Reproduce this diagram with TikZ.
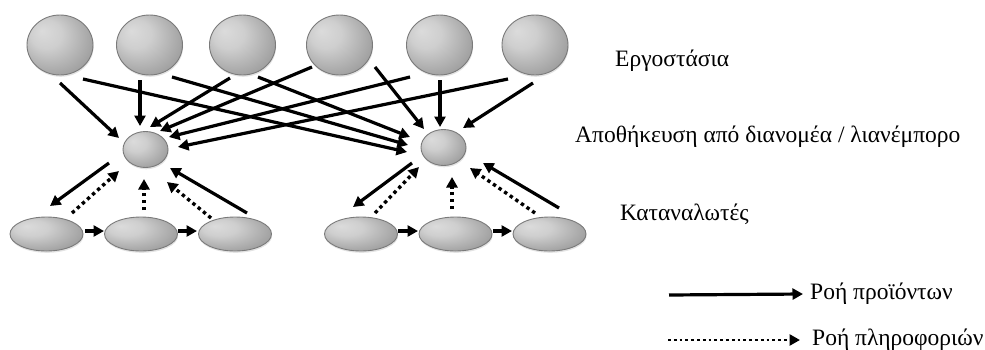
\documentclass[tikz,border=0pt]{standalone}
\usepackage{fontspec}
\setmainfont{Liberation Serif}
\usetikzlibrary{arrows.meta,shapes.geometric,calc,shadows}

% soft grey orb: light spot up-left, darker towards the rim
\pgfdeclareradialshading{orb}{\pgfpoint{-14bp}{12bp}}{%
  color(0bp)=(black!14); color(12bp)=(black!19);
  color(32bp)=(black!38); color(50bp)=(black!60)}

\begin{document}
\begin{tikzpicture}[x=1pt,y=-1pt,
  orbnode/.style={ellipse, draw=black!52, line width=0.9pt, shading=orb,
    inner sep=0pt,
    drop shadow={shadow xshift=0.6pt, shadow yshift=-1.8pt, opacity=0.22}},
  factory/.style={orbnode, minimum width=66pt, minimum height=60pt},
  store/.style={orbnode, minimum width=45pt, minimum height=36pt},
  consumer/.style={orbnode, minimum width=73pt, minimum height=34pt},
  goods/.style={line width=3.2pt, -{Triangle[length=10.5pt,width=11pt]}},
  info/.style={line width=3.4pt, dash pattern=on 3.4pt off 3.4pt,
    -{Triangle[length=10.5pt,width=11pt]}},
  lbl/.style={anchor=west, inner sep=0pt, font=\fontsize{23.5}{28}\selectfont},
]
\useasboundingbox (0,0) rectangle (985,349);

% factories
\node[factory] (t1) at (60,45) {};
\node[factory] (t2) at (149.5,45) {};
\node[factory] (t3) at (242.5,45) {};
\node[factory] (t4) at (339.5,45) {};
\node[factory] (t5) at (439.5,45) {};
\node[factory] (t6) at (535,45) {};

% distributor / retailer stores
\node[store] (m1) at (145.5,149.5) {};
\node[store] (m2) at (443.5,147.5) {};

% consumers
\node[consumer] (e1) at (46.5,234) {};
\node[consumer] (e2) at (141,234) {};
\node[consumer] (e3) at (235,234) {};
\node[consumer] (e4) at (361,234) {};
\node[consumer] (e5) at (455.5,234) {};
\node[consumer] (e6) at (549.5,234) {};

% factories -> left store
\draw[goods] ($(t1)+(0,38)$)      -- ($(m1)+(-26.5,-11.5)$);
\draw[goods] ($(t2)+(-9.5,35)$)   -- ($(m1)+(-5.5,-23.5)$);
\draw[goods] ($(t3)+(-12.5,33)$)  -- ($(m1)+(4.5,-22.5)$);
\draw[goods] ($(t4)+(-27.5,22)$)  -- ($(m1)+(14.5,-18.5)$);
\draw[goods] ($(t5)+(-29.5,32)$)  -- ($(m1)+(23.5,-12.5)$);
\draw[goods] ($(t6)+(-27,34)$)    -- ($(m1)+(32.5,-2.5)$);

% factories -> right store
\draw[goods] ($(t1)+(23,34)$)     -- ($(m2)+(-36.5,4.5)$);
\draw[goods] ($(t2)+(22.5,32)$)   -- ($(m2)+(-35.5,-2.5)$);
\draw[goods] ($(t3)+(15.5,32)$)   -- ($(m2)+(-33.5,-10.5)$);
\draw[goods] ($(t4)+(35.5,22)$)   -- ($(m2)+(-19.5,-18.5)$);
\draw[goods] ($(t5)+(0.5,35)$)    -- ($(m2)+(-3.5,-20.5)$);
\draw[goods] ($(t6)+(-2,38)$)     -- ($(m2)+(19.5,-19.5)$);

% left store <-> consumers
\draw[goods] ($(m1)+(-36.5,13.5)$) -- ($(e1)+(3.5,-28)$);
\draw[info]  ($(e1)+(25.5,-21)$)   -- ($(m1)+(-26.5,21.5)$);
\draw[info]  ($(e2)+(3,-24)$)      -- ($(m1)+(-1.5,29.5)$);
\draw[info]  ($(e3)+(-24,-16)$)    -- ($(m1)+(21.5,32.5)$);
\draw[goods] ($(e3)+(12,-21)$)     -- ($(m1)+(24.5,18.5)$);
\draw[goods] ($(e1)+(38.5,-3)$)    -- ($(e2)+(-37,-3)$);
\draw[goods] ($(e2)+(37,-3)$)      -- ($(e3)+(-38,-3)$);

% right store <-> consumers
\draw[goods] ($(m2)+(-31.5,15.5)$) -- ($(e4)+(-8,-27)$);
\draw[info]  ($(e4)+(14,-21)$)     -- ($(m2)+(-24.5,19.5)$);
\draw[info]  ($(e5)+(-3.5,-25)$)   -- ($(m2)+(8.5,29.5)$);
\draw[info]  ($(e6)+(-14.5,-21)$)  -- ($(m2)+(26.5,20.5)$);
\draw[goods] ($(e6)+(9.5,-26)$)    -- ($(m2)+(39.5,15.5)$);
\draw[goods] ($(e4)+(37,-3)$)      -- ($(e5)+(-37.5,-3)$);
\draw[goods] ($(e5)+(37.5,-3)$)    -- ($(e6)+(-37.5,-3)$);

% tier captions
\node[lbl] (cap1) at (615,61)  {Εργοστάσια};
\node[lbl] (cap2) at (575,137) {Αποθήκευση από διανομέα / λιανέμπορο};
\node[lbl] (cap3) at (620,214) {Καταναλωτές};

% legend
\coordinate (keyA) at (669,295);
\node[lbl] (keyAtxt) at (810,294) {Ροή προϊόντων};
\draw[goods] (keyA) -- ([xshift=-7pt]keyAtxt.west);
\coordinate (keyB) at (668,340);
\node[lbl] (keyBtxt) at (812,340) {Ροή πληροφοριών};
\draw[info, line width=2.8pt, dash pattern=on 2.8pt off 3pt] (keyB) -- ([xshift=-12pt]keyBtxt.west);
\end{tikzpicture}
\end{document}
